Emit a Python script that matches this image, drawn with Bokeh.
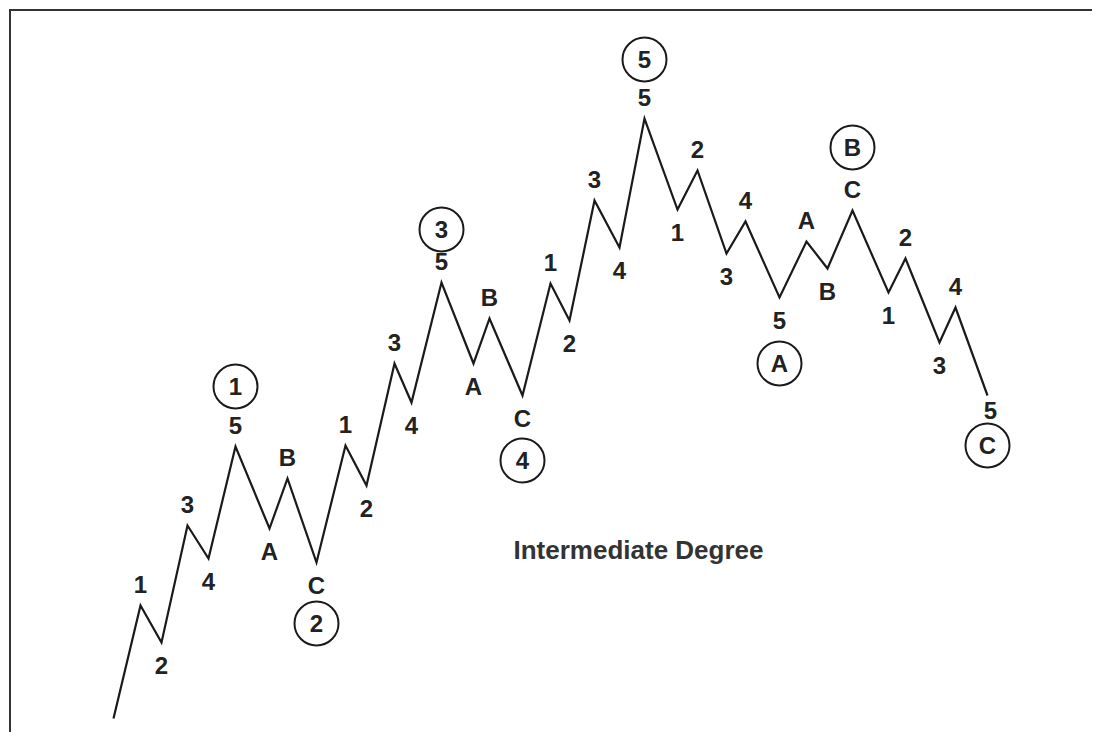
from bokeh.plotting import figure
from bokeh.models import Range1d, ColumnDataSource
from bokeh.core.properties import value
from bokeh.embed import file_html
from bokeh.resources import INLINE

# Wave vertices (time position, price level)
wave_x = [113, 140, 161, 187, 208, 235, 269, 287, 316, 345, 366, 394, 411, 441,
          473, 489, 522, 550, 569, 594, 619, 644, 677, 697, 726, 745, 779, 806,
          827, 852, 888, 905, 939, 955, 987]
wave_y = [22, 135, 98, 215, 182, 294, 212, 262, 178, 295, 255, 377, 338, 458,
          377, 422, 345, 457, 420, 540, 493, 622, 531, 570, 487, 519, 443, 499,
          472, 530, 448, 482, 398, 433, 345]

# Minor-degree labels for every vertex after the start
minor_labels = ["1", "2", "3", "4", "5", "A", "B", "C",
                "1", "2", "3", "4", "5", "A", "B", "C",
                "1", "2", "3", "4", "5",
                "1", "2", "3", "4", "5",
                "A", "B", "C",
                "1", "2", "3", "4", "5"]

# Intermediate-degree (circled) labels: vertex index -> label
circled_index = [5, 8, 13, 16, 21, 26, 29, 34]
circled_labels = ["1", "2", "3", "4", "5", "A", "B", "C"]

caption = "Intermediate Degree"

# --- style ---
FONT = "Liberation Sans"
INK = "#222222"
circle_gap = [60, 61, 53, 65, 59, 66, 63, 50]   # px distance of circle from vertex

p = figure(width=1092, height=732, output_backend="svg", toolbar_location=None,
           x_range=Range1d(0, 1092), y_range=Range1d(8, 740), min_border=0)
p.axis.visible = False
p.xgrid.visible = False
p.ygrid.visible = False
p.outline_line_color = None
p.background_fill_color = "white"
p.border_fill_color = "white"

# frame corner (left and top edges of the picture box)
p.line([9.5, 9.5, 1092], [0, 730.5, 730.5], line_color="#333333", line_width=2,
       line_join="miter")

# wave line
p.line(wave_x, wave_y, line_color="#1a1a1a", line_width=2.2, line_join="miter")

# minor labels
lx, ly, lt, loff = [], [], [], []
n = len(minor_labels)
for i, lab in enumerate(minor_labels, start=1):
    peak = wave_y[i] > wave_y[i - 1]
    lx.append(wave_x[i] + (3 if i == n else 0))
    ly.append(wave_y[i])
    lt.append(lab)
    if peak:
        loff.append(-21)
    else:
        loff.append(15 if i == n else 23)
src = ColumnDataSource(dict(x=lx, y=ly, t=lt, off=loff))
p.text(x="x", y="y", text="t", y_offset="off", source=src,
       text_font=value(FONT), text_font_style="bold", text_font_size="24px",
       text_color=INK, text_align="center", text_baseline="middle")

# circled labels
cx, cy, ct = [], [], []
for idx, lab, gap in zip(circled_index, circled_labels, circle_gap):
    peak = wave_y[idx] > wave_y[idx - 1]
    cx.append(wave_x[idx])
    cy.append(wave_y[idx] + (gap if peak else -gap))
    ct.append(lab)
csrc = ColumnDataSource(dict(x=cx, y=cy, t=ct))
p.scatter(x="x", y="y", source=csrc, marker="circle", size=44,
          fill_color=None, line_color="#1a1a1a", line_width=2)
p.text(x="x", y="y", text="t", source=csrc,
       text_font=value(FONT), text_font_style="bold", text_font_size="24px",
       text_color=INK, text_align="center", text_baseline="middle")

# caption
p.text(x=[638], y=[191], text=[caption],
       text_font=value(FONT), text_font_style="bold", text_font_size="26px",
       text_color="#333333", text_align="center", text_baseline="middle")

open("out.html", "w").write(file_html(p, INLINE))
